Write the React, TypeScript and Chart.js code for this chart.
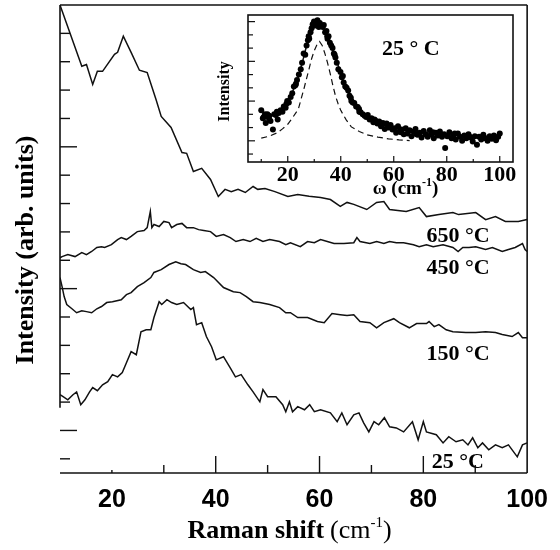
import { useEffect, useRef } from 'react';
import { Chart, registerables } from 'chart.js';

Chart.register(...registerables);

// ---------- main plot data (Raman shift in cm^-1, intensity in arb. units) ----------
const xTickLabels = [20, 40, 60, 80, 100];
const xMajorTicks = [40, 60, 80];
const xMinorTicks = [20, 30, 50, 70, 90];
const yTicks = [0, 1, 2, 3, 4, 5, 6, 7, 8, 9, 10, 11, 12, 13, 14, 15];
const yMajorTicks = [1, 6, 11];

const x650 = [10, 14.2, 15.1, 16.3, 17.2, 18.2, 20.5, 21.1, 22.2, 23.7, 25.3, 26.8, 28.5, 29.5, 31.4, 33.5, 34.4, 35.7, 37.3, 39.0, 40.5, 41.8, 43.0, 44.3, 45.7, 47.2, 48.1, 49.5, 51.4, 53.9, 55.8, 58.0, 60.2, 62.1, 64.0, 65.3, 66.6, 69.1, 71.0, 72.4, 73.5, 76.7, 79.2, 80.6, 83.0, 85.7, 86.8, 90.1, 92.0, 93.9, 95.8, 98.3, 100];
const y650 = [16.0, 13.84, 13.9, 13.2, 13.66, 13.66, 14.26, 14.33, 14.9, 14.33, 13.7, 13.62, 12.67, 12.07, 11.68, 10.8, 10.77, 10.13, 10.24, 9.85, 9.25, 9.5, 9.42, 9.5, 9.39, 9.6, 9.5, 9.53, 9.42, 9.25, 9.32, 9.26, 9.21, 9.14, 8.9, 9.04, 8.97, 8.79, 9.04, 9.07, 8.79, 8.72, 8.86, 8.54, 8.61, 8.68, 8.61, 8.68, 8.43, 8.54, 8.37, 8.37, 8.44];

const x450 = [10, 10.4, 11.5, 12.9, 14.2, 15.1, 16.1, 17.1, 18.0, 18.6, 19.9, 21.1, 21.8, 22.8, 23.7, 24.9, 26.2, 26.8, 27.4, 27.7, 28.1, 29.1, 30.0, 31.0, 31.5, 32.5, 33.5, 34.4, 35.7, 36.7, 37.7, 39.0, 40.1, 41.5, 42.8, 43.9, 45.3, 46.6, 47.8, 49.1, 50.4, 52.3, 53.5, 54.4, 56.3, 57.7, 59.0, 60.2, 61.5, 62.8, 64.7, 66.6, 67.2, 67.8, 69.7, 71.0, 72.4, 73.5, 74.8, 76.2, 78.1, 79.2, 80.6, 81.9, 83.8, 85.7, 86.7, 87.6, 88.8, 90.1, 92.0, 93.3, 95.2, 96.4, 97.7, 99.1, 99.6, 100];
const y450 = [7.09, 7.13, 7.2, 7.13, 7.27, 7.2, 7.31, 7.45, 7.48, 7.45, 7.55, 7.73, 7.8, 7.73, 7.84, 8.01, 8.05, 8.15, 8.72, 8.15, 8.26, 8.19, 8.37, 8.33, 8.15, 8.26, 8.3, 8.15, 8.15, 8.08, 8.05, 8.01, 7.84, 7.91, 7.8, 7.66, 7.73, 7.66, 7.77, 7.66, 7.73, 7.66, 7.55, 7.62, 7.48, 7.66, 7.62, 7.73, 7.66, 7.59, 7.59, 7.62, 7.8, 7.66, 7.59, 7.66, 7.59, 7.66, 7.62, 7.62, 7.55, 7.48, 7.55, 7.48, 7.55, 7.45, 7.31, 7.45, 7.45, 7.48, 7.38, 7.45, 7.31, 7.38, 7.45, 7.59, 7.38, 7.31];

const x150 = [10, 10.4, 10.8, 11.3, 12.3, 13.2, 14.2, 15.1, 16.1, 17.1, 18.0, 19.0, 20.1, 21.8, 22.8, 23.7, 24.9, 26.2, 27.5, 28.1, 29.5, 31.0, 32.3, 33.3, 34.2, 35.7, 37.1, 38.0, 39.6, 41.5, 43.4, 44.7, 45.9, 47.2, 48.5, 50.4, 52.3, 53.5, 54.4, 55.8, 57.7, 59.6, 60.9, 62.4, 64.0, 65.3, 66.6, 67.8, 69.7, 71.0, 72.4, 74.3, 75.4, 77.3, 78.7, 80.6, 81.1, 82.1, 83.0, 84.4, 85.7, 88.2, 90.1, 92.0, 93.9, 95.2, 97.1, 98.3, 99.1, 100];
const y150 = [6.39, 6.07, 5.72, 5.44, 5.29, 5.15, 5.22, 5.19, 5.15, 5.29, 5.37, 5.51, 5.54, 5.61, 5.79, 5.86, 6.07, 6.21, 6.39, 6.57, 6.67, 6.85, 6.95, 6.88, 6.85, 6.67, 6.57, 6.6, 6.39, 6.04, 5.89, 5.86, 5.72, 5.54, 5.51, 5.44, 5.33, 5.15, 5.15, 4.98, 4.98, 4.84, 4.8, 5.12, 5.08, 5.05, 5.08, 4.84, 4.8, 4.62, 4.8, 4.94, 4.8, 4.62, 4.77, 4.77, 4.84, 4.66, 4.73, 4.55, 4.48, 4.45, 4.45, 4.48, 4.45, 4.38, 4.31, 4.45, 4.27, 4.27];

const x25 = [10, 10.6, 11.5, 12.5, 13.2, 14.0, 14.8, 15.7, 16.3, 17.2, 18.2, 19.2, 20.1, 21.1, 22.0, 22.8, 23.7, 24.7, 25.6, 26.6, 27.5, 28.1, 29.1, 29.6, 30.6, 31.5, 32.5, 33.8, 35.2, 35.7, 36.3, 37.3, 38.2, 39.2, 40.1, 41.5, 42.8, 43.8, 44.9, 46.2, 47.2, 48.5, 49.1, 50.0, 51.6, 52.9, 53.5, 54.2, 54.8, 55.8, 57.1, 58.1, 59.0, 60.2, 62.1, 63.4, 64.3, 65.3, 66.6, 67.6, 68.5, 69.5, 70.5, 71.4, 72.5, 73.5, 74.8, 76.2, 77.9, 79.0, 80.0, 80.6, 82.5, 83.8, 84.9, 86.3, 87.6, 88.6, 89.5, 90.5, 91.4, 92.6, 93.9, 95.2, 96.4, 98.1, 99.1, 100];
const y25 = [2.26, 2.19, 2.08, 2.26, 2.36, 1.91, 2.08, 2.36, 2.51, 2.4, 2.61, 2.72, 2.97, 2.89, 3.04, 3.39, 3.78, 3.67, 4.48, 4.55, 4.55, 4.98, 5.54, 5.44, 5.61, 5.51, 5.44, 5.51, 5.26, 5.33, 4.73, 4.8, 4.31, 3.95, 3.49, 3.6, 3.21, 2.89, 2.97, 2.61, 2.36, 2.01, 2.44, 2.19, 2.19, 1.91, 1.66, 2.01, 1.66, 1.84, 1.73, 1.91, 1.66, 1.73, 1.62, 1.31, 1.62, 1.2, 1.55, 1.62, 1.27, 0.95, 1.31, 1.2, 1.45, 1.13, 1.09, 0.95, 1.31, 0.67, 1.31, 0.95, 0.85, 0.56, 0.78, 0.6, 0.67, 0.49, 0.74, 0.39, 0.56, 0.32, 0.49, 0.39, 0.49, 0.07, 0.49, 0.56];

const curveLabels = ['650 °C', '450 °C', '150 °C', '25 °C'];
const curveLabelX = [80.6, 80.6, 80.6, 81.6];
const curveLabelY = [7.66, 6.53, 3.49, -0.32];

// ---------- inset data (25 °C, omega in cm^-1) ----------
const insetXTicks = [20, 40, 60, 80, 100];
const insetYTicks = [0, 1, 2, 3, 4, 5, 6, 7, 8, 9, 10];

const dotX = [10.0, 10.6, 11.0, 11.7, 12.3, 12.9, 13.5, 14.4, 14.9, 15.5, 16.2, 16.6, 17.3, 18.0, 18.5, 19.2, 19.8, 20.4, 21.1, 21.7, 22.3, 22.9, 23.5, 24.2, 24.9, 25.4, 26.0, 26.6, 27.1, 27.6, 28.1, 28.6, 29.0, 29.4, 29.9, 30.3, 30.8, 31.2, 31.7, 32.1, 32.6, 33.2, 33.6, 34.1, 34.6, 35.0, 35.4, 35.9, 36.4, 36.9, 37.4, 38.0, 38.5, 39.1, 39.9, 40.4, 41.1, 41.7, 42.2, 42.8, 43.3, 43.8, 44.5, 45.1, 45.8, 46.4, 47.0, 47.5, 48.3, 49.0, 49.6, 50.2, 50.9, 51.6, 52.3, 53.0, 53.8, 54.5, 55.2, 55.9, 56.6, 57.3, 58.0, 58.8, 59.5, 60.2, 60.9, 61.6, 62.3, 63.0, 63.8, 64.5, 65.2, 66.0, 66.7, 67.5, 68.2, 69.0, 69.8, 70.5, 71.3, 72.0, 72.8, 73.6, 74.3, 75.1, 75.9, 76.7, 77.4, 78.2, 79.0, 79.4, 80.2, 81.0, 81.8, 82.6, 83.4, 84.2, 85.0, 85.8, 86.6, 87.4, 88.2, 89.0, 89.8, 90.6, 91.4, 92.2, 93.0, 93.8, 94.6, 95.4, 96.2, 97.0, 97.8, 98.6, 99.4, 100.0, 11.4, 13.0, 15.9, 19.5, 23.1, 27.9, 30.6, 31.9, 34.9, 37.7, 40.8, 44.0, 46.9, 52.7, 57.8, 62.7, 68.6, 74.8, 83.0, 88.6, 96.6];
const dotY = [3.3, 2.7, 2.8, 2.35, 3.0, 2.7, 2.5, 1.85, 3.0, 2.95, 2.6, 3.1, 3.3, 3.2, 3.6, 3.5, 4.0, 3.9, 4.3, 4.6, 5.1, 5.2, 5.6, 6.0, 6.4, 6.9, 7.6, 7.5, 8.2, 8.6, 8.7, 9.2, 9.5, 9.8, 10.0, 9.7, 9.95, 10.1, 9.6, 9.9, 9.7, 9.6, 9.75, 9.2, 9.3, 8.7, 8.9, 8.4, 8.2, 8.0, 7.6, 7.3, 6.9, 6.4, 6.2, 5.8, 5.4, 5.1, 5.0, 4.8, 4.4, 4.25, 3.9, 3.85, 3.6, 3.55, 3.2, 3.15, 3.0, 2.9, 2.8, 2.95, 2.6, 2.7, 2.4, 2.55, 2.3, 2.45, 2.1, 2.35, 1.9, 2.3, 2.0, 2.2, 1.85, 1.95, 1.6, 2.1, 1.75, 1.85, 1.5, 1.95, 1.55, 1.8, 1.35, 1.7, 1.9, 1.45, 1.6, 1.25, 1.75, 1.5, 1.3, 1.8, 1.45, 1.2, 1.6, 1.4, 1.7, 1.3, 1.5, 0.45, 1.35, 1.65, 1.2, 1.45, 1.1, 1.55, 1.3, 1.0, 1.4, 1.2, 1.5, 1.25, 0.95, 1.35, 0.7, 1.3, 1.1, 1.45, 1.2, 1.0, 1.35, 1.15, 1.4, 1.05, 1.3, 1.55, 3.0, 2.9, 3.2, 3.8, 5.3, 8.9, 9.9, 9.85, 8.9, 7.5, 5.9, 4.0, 3.4, 2.6, 2.15, 1.65, 1.5, 1.65, 1.55, 1.3, 1.25];

const fitX = [10, 12, 14, 16, 18, 20, 22, 24, 26, 27, 28, 29, 30, 31, 32, 33, 34, 35, 36, 37, 38, 39, 40, 41, 42, 43, 44, 46, 48, 50, 53, 56, 60, 65, 70, 75, 80, 90, 100];
const fitY = [2.9, 2.85, 2.95, 3.15, 3.45, 4.0, 4.8, 5.8, 7.3, 8.1, 8.8, 9.4, 9.8, 9.95, 9.9, 9.7, 9.3, 8.9, 8.4, 7.9, 7.3, 6.7, 6.1, 5.5, 5.05, 4.6, 4.2, 3.6, 3.1, 2.8, 2.45, 2.2, 1.95, 1.75, 1.6, 1.5, 1.42, 1.35, 1.3];

const lorX = [10, 13, 16, 18, 20, 22, 24, 26, 28, 29, 30, 31, 32, 33, 34, 35, 36, 37, 38, 39, 40, 42, 44, 47, 50, 54, 58, 62, 66];
const lorY = [1.2, 1.35, 1.6, 1.9, 2.25, 2.8, 3.4, 4.85, 6.4, 7.2, 7.8, 8.25, 8.5, 8.2, 7.6, 6.9, 6.1, 5.2, 4.4, 3.8, 3.3, 2.6, 2.05, 1.7, 1.45, 1.28, 1.15, 1.07, 1.02];

const pts = (xs: number[], ys: number[]) => xs.map((x, i) => ({ x, y: ys[i] }));

const INK = '#111';
const SERIF = '"Liberation Serif", "Times New Roman", serif';
const SANS = '"Liberation Sans", Arial, sans-serif';

function line(ctx: CanvasRenderingContext2D, x1: number, y1: number, x2: number, y2: number) {
  ctx.beginPath();
  ctx.moveTo(x1, y1);
  ctx.lineTo(x2, y2);
  ctx.stroke();
}

const mainDecor = {
  id: 'mainDecor',
  afterDraw(chart: any) {
    const { ctx, chartArea } = chart;
    const xs = chart.scales.x;
    const ys = chart.scales.y;
    const { left, right, top, bottom } = chartArea;
    ctx.save();
    ctx.strokeStyle = INK;
    ctx.lineWidth = 1.6;
    line(ctx, left, top, right, top);
    line(ctx, right, top, right, bottom);
    line(ctx, left, bottom, right, bottom);
    line(ctx, left, top, left, ys.getPixelForValue(1.8));
    ctx.lineWidth = 1.4;
    yTicks.forEach((v) => {
      const p = ys.getPixelForValue(v);
      const len = yMajorTicks.includes(v) ? 17 : 10;
      line(ctx, left, p, left + len, p);
    });
    xMajorTicks.forEach((v) => {
      const p = xs.getPixelForValue(v);
      line(ctx, p, bottom, p, bottom - 17);
    });
    xMinorTicks.forEach((v) => {
      const p = xs.getPixelForValue(v);
      line(ctx, p, bottom, p, bottom - (v === 20 ? 3 : 8));
    });
    // curve labels
    ctx.fillStyle = '#000';
    ctx.font = `bold 22px ${SERIF}`;
    ctx.textAlign = 'left';
    ctx.textBaseline = 'alphabetic';
    curveLabels.forEach((t, i) => {
      ctx.fillText(t, xs.getPixelForValue(curveLabelX[i]), ys.getPixelForValue(curveLabelY[i]));
    });
    // x title
    const base = bottom + 65;
    const p1 = 'Raman shift';
    const p2 = '(cm';
    const p3 = '-1';
    const p4 = ')';
    ctx.font = `bold 26px ${SERIF}`;
    const w1 = ctx.measureText(p1).width;
    ctx.font = `26px ${SERIF}`;
    const w2 = ctx.measureText(p2).width;
    const w4 = ctx.measureText(p4).width;
    ctx.font = `15px ${SERIF}`;
    const w3 = ctx.measureText(p3).width;
    const total = w1 + 6 + w2 + w3 + w4;
    let x = (left + right) / 2 - 4 - total / 2;
    ctx.font = `bold 26px ${SERIF}`;
    ctx.fillText(p1, x, base);
    x += w1 + 6;
    ctx.font = `26px ${SERIF}`;
    ctx.fillText(p2, x, base);
    x += w2;
    ctx.font = `15px ${SERIF}`;
    ctx.fillText(p3, x, base - 11);
    x += w3;
    ctx.font = `26px ${SERIF}`;
    ctx.fillText(p4, x, base);
    // y title
    ctx.translate(26, (top + bottom) / 2 + 11);
    ctx.rotate(-Math.PI / 2);
    ctx.textAlign = 'center';
    ctx.textBaseline = 'middle';
    ctx.font = `bold 26px ${SERIF}`;
    ctx.fillText('Intensity (arb. units)', 0, 0);
    ctx.restore();
  },
};

const insetDecor = {
  id: 'insetDecor',
  afterDraw(chart: any) {
    const { ctx, chartArea } = chart;
    const xs = chart.scales.x;
    const ys = chart.scales.y;
    const { left, right, top, bottom } = chartArea;
    ctx.save();
    ctx.strokeStyle = INK;
    ctx.lineWidth = 1.6;
    ctx.strokeRect(left, top, right - left, bottom - top);
    ctx.lineWidth = 1.2;
    insetYTicks.forEach((v) => {
      const p = ys.getPixelForValue(v);
      line(ctx, left, p, left + (v % 3 === 1 ? 7 : 5), p);
    });
    [10, 20, 30, 40, 50, 60, 70, 80, 90, 100].forEach((v) => {
      const p = xs.getPixelForValue(v);
      line(ctx, p, bottom, p, bottom - (v % 20 === 0 ? 6 : 3));
    });
    ctx.fillStyle = '#000';
    ctx.textAlign = 'left';
    ctx.textBaseline = 'alphabetic';
    ctx.font = `bold 22px ${SERIF}`;
    ctx.fillText('25 ° C', left + 134, top + 40);
    // x title
    const base = bottom + 32;
    ctx.font = `bold 19px ${SERIF}`;
    const a = 'ω (cm';
    const wa = ctx.measureText(a).width;
    ctx.font = `bold 12px ${SERIF}`;
    const wb = ctx.measureText('-1').width;
    ctx.font = `bold 19px ${SERIF}`;
    const wc = ctx.measureText(')').width;
    let x = 168 + (75 - (wa + wb + wc)) / 2;
    ctx.fillText(a, x, base);
    x += wa;
    ctx.font = `bold 12px ${SERIF}`;
    ctx.fillText('-1', x, base - 8);
    x += wb;
    ctx.font = `bold 19px ${SERIF}`;
    ctx.fillText(')', x, base);
    // y title
    ctx.translate(25, (top + bottom) / 2 + 3);
    ctx.rotate(-Math.PI / 2);
    ctx.textAlign = 'center';
    ctx.textBaseline = 'middle';
    ctx.font = `bold 16px ${SERIF}`;
    ctx.fillText('Intensity', 0, 0);
    ctx.restore();
  },
};

const curveStyle = {
  showLine: true,
  borderColor: INK,
  borderWidth: 1.5,
  pointRadius: 0,
  tension: 0,
  fill: false,
};

export default function App() {
  const mainRef = useRef<HTMLCanvasElement>(null);
  const insetRef = useRef<HTMLCanvasElement>(null);

  useEffect(() => {
    const main = new Chart(mainRef.current as HTMLCanvasElement, {
      type: 'scatter',
      data: {
        datasets: [
          { label: '650 °C', data: pts(x650, y650), ...curveStyle },
          { label: '450 °C', data: pts(x450, y450), ...curveStyle },
          { label: '150 °C', data: pts(x150, y150), ...curveStyle },
          { label: '25 °C', data: pts(x25, y25), ...curveStyle },
        ],
      },
      options: {
        responsive: false,
        animation: false,
        devicePixelRatio: 1,
        layout: { padding: { left: 0, top: 5, right: 28, bottom: 0 } },
        plugins: { legend: { display: false }, tooltip: { enabled: false } },
        scales: {
          x: {
            type: 'linear',
            min: 10,
            max: 100,
            grid: { display: false, drawTicks: false },
            border: { display: false },
            ticks: {
              color: '#000',
              font: { family: SANS, size: 25, weight: 'bold' },
              padding: 12,
              autoSkip: false,
              maxRotation: 0,
            },
            afterBuildTicks: (s: any) => {
              s.ticks = xTickLabels.map((v) => ({ value: v }));
            },
            afterFit: (s: any) => {
              s.height = 77;
            },
          },
          y: {
            type: 'linear',
            min: -0.5,
            max: 16,
            grid: { display: false, drawTicks: false },
            border: { display: false },
            ticks: { display: false },
            afterFit: (s: any) => {
              s.width = 60;
            },
          },
        },
      } as any,
      plugins: [mainDecor],
    });

    const inset = new Chart(insetRef.current as HTMLCanvasElement, {
      type: 'scatter',
      data: {
        datasets: [
          {
            label: 'data',
            data: pts(dotX, dotY),
            showLine: false,
            pointRadius: 3,
            pointBackgroundColor: '#000',
            pointBorderColor: '#000',
            pointBorderWidth: 0,
          },
          { label: 'fit', data: pts(fitX, fitY), ...curveStyle, borderWidth: 1.5 },
          {
            label: 'Lorentzian',
            data: pts(lorX, lorY),
            ...curveStyle,
            borderWidth: 1.2,
            borderDash: [6, 4],
          },
        ],
      },
      options: {
        responsive: false,
        animation: false,
        devicePixelRatio: 1,
        layout: { padding: { left: 0, top: 15, right: 17, bottom: 0 } },
        plugins: { legend: { display: false }, tooltip: { enabled: false } },
        scales: {
          x: {
            type: 'linear',
            min: 5,
            max: 105,
            grid: { display: false, drawTicks: false },
            border: { display: false },
            ticks: {
              color: '#000',
              font: { family: SERIF, size: 22, weight: 'bold' },
              padding: 0,
              autoSkip: false,
              maxRotation: 0,
            },
            afterBuildTicks: (s: any) => {
              s.ticks = insetXTicks.map((v) => ({ value: v }));
            },
            afterFit: (s: any) => {
              s.height = 38;
            },
          },
          y: {
            type: 'linear',
            min: -0.6,
            max: 10.5,
            grid: { display: false, drawTicks: false },
            border: { display: false },
            ticks: { display: false },
            afterFit: (s: any) => {
              s.width = 48;
            },
          },
        },
      } as any,
      plugins: [insetDecor],
    });

    return () => {
      main.destroy();
      inset.destroy();
    };
  }, []);

  return (
    <div style={{ position: 'fixed', left: 0, top: 0, width: 560, height: 550, background: '#fff' }}>
      <canvas
        ref={mainRef}
        width={560}
        height={550}
        style={{ position: 'absolute', left: 0, top: 0, width: 560, height: 550 }}
      />
      <canvas
        ref={insetRef}
        width={330}
        height={200}
        style={{ position: 'absolute', left: 200, top: 0, width: 330, height: 200 }}
      />
    </div>
  );
}
